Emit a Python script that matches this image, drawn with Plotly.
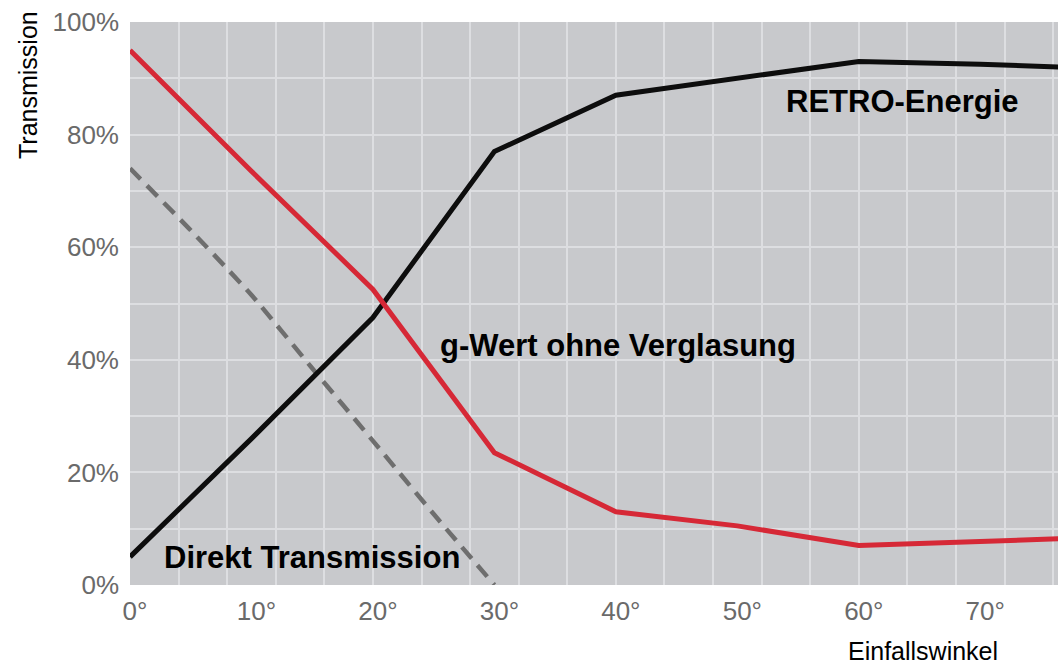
import plotly.graph_objects as go

# Angles of incidence (degrees)
angles = [0, 10, 20, 30, 40, 50, 60, 70, 76.5]
# RETRO-Energie (black)
retro = [5, 26, 47.5, 77, 87, 90, 93, 92.5, 92]
# g-Wert ohne Verglasung (red)
gwert = [95, 73.5, 52.5, 23.5, 13, 10.5, 7, 7.8, 8.2]
# Direkt Transmission (dashed gray)
direkt_angles = [0, 5, 10, 15, 20, 25, 30]
direkt = [74, 63, 51.5, 38.5, 25.6, 12.6, 0]

x_ticks = [0, 10, 20, 30, 40, 50, 60, 70]
x_ticktext = ["0°", "10°", "20°", "30°", "40°", "50°", "60°", "70°"]
y_ticks = [0, 20, 40, 60, 80, 100]
y_ticktext = ["0%", "20%", "40%", "60%", "80%", "100%"]
x_range = [0, 76.4]

FONT = "Liberation Sans, Arial, sans-serif"
BG = "#c8c9cc"
GRID = "#dddee1"
TICK_COL = "#6a6a6a"

W, H = 1058, 670
ML, MR, MT, MB = 130, 0, 22, 85
plot_w = W - ML - MR
plot_h = H - MT - MB

fig = go.Figure()

fig.add_trace(go.Scatter(
    x=direkt_angles, y=direkt, mode="lines",
    line=dict(color="#6e6e6e", width=4.5, dash="15px,9px", shape="spline", smoothing=0.6),
    xaxis="x", yaxis="y", hoverinfo="skip", showlegend=False))

fig.add_trace(go.Scatter(
    x=angles, y=retro, mode="lines",
    line=dict(color="#0d0d0d", width=5),
    xaxis="x2", yaxis="y", hoverinfo="skip", showlegend=False))

fig.add_trace(go.Scatter(
    x=angles, y=gwert, mode="lines",
    line=dict(color="#d62836", width=5),
    xaxis="x2", yaxis="y", hoverinfo="skip", showlegend=False))

fig.update_layout(
    width=W, height=H,
    margin=dict(l=ML, r=MR, t=MT, b=MB, autoexpand=False),
    paper_bgcolor="white",
    plot_bgcolor=BG,
    font=dict(family=FONT),
    xaxis=dict(
        range=x_range, tickvals=x_ticks, ticktext=x_ticktext,
        showgrid=False, zeroline=False, showline=False, ticks="",
        tickfont=dict(size=26, color=TICK_COL, family=FONT),
        ticklabelstandoff=8, ticklabelshift=5, automargin=False,
    ),
    xaxis2=dict(
        range=x_range, overlaying="x", dtick=4, tick0=0,
        showgrid=True, gridcolor=GRID, gridwidth=2,
        showticklabels=False, zeroline=False, showline=False, ticks="",
        automargin=False,
    ),
    yaxis=dict(
        range=[0, 100], tickvals=y_ticks, ticktext=y_ticktext,
        showgrid=True, gridcolor=GRID, gridwidth=2,
        minor=dict(dtick=10, tick0=0, showgrid=True, gridcolor=GRID, gridwidth=2, ticks=""),
        zeroline=False, showline=False, ticks="",
        tickfont=dict(size=26, color=TICK_COL, family=FONT),
        ticklabelstandoff=10, automargin=False,
    ),
    annotations=[
        dict(text="<b>RETRO-Energie</b>", x=63.6, y=85.9, xref="x", yref="y",
             xanchor="center", yanchor="middle", showarrow=False,
             font=dict(size=31, color="black", family=FONT)),
        dict(text="<b>g-Wert ohne Verglasung</b>", x=25.35, y=42.6, xref="x", yref="y",
             xanchor="left", yanchor="middle", showarrow=False,
             font=dict(size=31, color="black", family=FONT)),
        dict(text="<b>Direkt Transmission</b>", x=2.63, y=4.8, xref="x", yref="y",
             xanchor="left", yanchor="middle", showarrow=False,
             font=dict(size=31, color="black", family=FONT)),
        dict(text="Transmission", x=(28 - ML) / plot_w, y=(H - MB - 85) / plot_h,
             xref="paper", yref="paper", xanchor="center", yanchor="middle",
             showarrow=False, textangle=-90,
             font=dict(size=25, color="black", family=FONT)),
        dict(text="Einfallswinkel", x=(923 - ML) / plot_w, y=(H - MB - 651) / plot_h,
             xref="paper", yref="paper", xanchor="center", yanchor="middle",
             showarrow=False,
             font=dict(size=25, color="black", family=FONT)),
    ],
)

fig.write_html(
    "out.html",
    config={"displayModeBar": False},
    post_script="document.body.style.margin='0';document.body.style.overflow='hidden';",
)
